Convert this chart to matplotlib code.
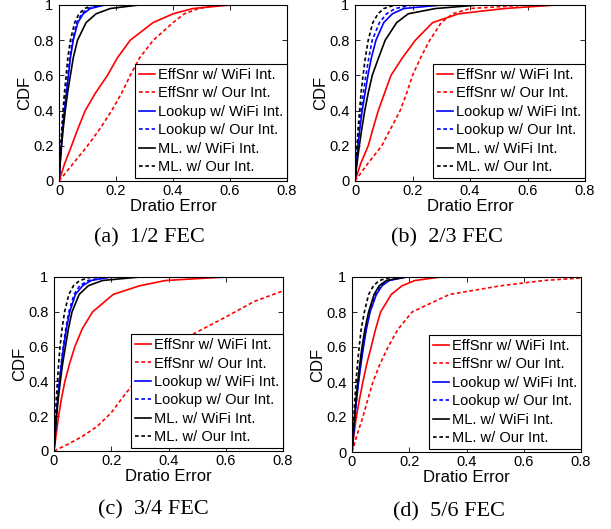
import matplotlib
matplotlib.use("Agg")
import matplotlib.pyplot as plt

# ============================================================
# Data: Dratio error read at fixed CDF levels
# ============================================================

CDF_LEVELS = [0, 0.1, 0.2, 0.3, 0.4, 0.5, 0.6, 0.7, 0.8, 0.9, 0.95, 0.98, 1.0]

SERIES = ["EffSnr w/ WiFi Int.", "EffSnr w/ Our Int.",
          "Lookup w/ WiFi Int.", "Lookup w/ Our Int.",
          "ML. w/ WiFi Int.", "ML. w/ Our Int."]

CAPTIONS = ["(a)  1/2 FEC", "(b)  2/3 FEC", "(c)  3/4 FEC", "(d)  5/6 FEC"]

# (a) 1/2 FEC
A_EFF_WIFI = [0, 0.02, 0.044, 0.067, 0.092, 0.128, 0.17, 0.205, 0.25, 0.33, 0.40, 0.47, 0.6]
A_EFF_OUR = [0, 0.05, 0.10, 0.145, 0.185, 0.22, 0.25, 0.283, 0.331, 0.40, 0.44, 0.49, 0.56]
A_LOOK_WIFI = [0, 0.004, 0.008, 0.013, 0.019, 0.026, 0.033, 0.04, 0.05, 0.066, 0.085, 0.11, 0.16]
A_LOOK_OUR = [0, 0.003, 0.007, 0.012, 0.017, 0.024, 0.031, 0.038, 0.047, 0.062, 0.08, 0.10, 0.15]
A_ML_WIFI = [0, 0.004, 0.009, 0.015, 0.022, 0.03, 0.04, 0.05, 0.065, 0.095, 0.13, 0.18, 0.28]
A_ML_OUR = [0, 0.003, 0.006, 0.01, 0.014, 0.019, 0.025, 0.031, 0.04, 0.055, 0.07, 0.09, 0.12]

# (b) 2/3 FEC
B_EFF_WIFI = [0, 0.02, 0.046, 0.063, 0.081, 0.103, 0.125, 0.165, 0.21, 0.27, 0.36, 0.52, 0.7]
B_EFF_OUR = [0, 0.045, 0.093, 0.125, 0.157, 0.18, 0.2, 0.228, 0.26, 0.30, 0.34, 0.40, 0.6]
B_LOOK_WIFI = [0, 0.005, 0.01, 0.017, 0.025, 0.035, 0.045, 0.057, 0.073, 0.10, 0.13, 0.17, 0.3]
B_LOOK_OUR = [0, 0.004, 0.009, 0.015, 0.021, 0.029, 0.038, 0.048, 0.06, 0.085, 0.11, 0.14, 0.2]
B_ML_WIFI = [0, 0.007, 0.015, 0.024, 0.034, 0.046, 0.06, 0.082, 0.105, 0.145, 0.185, 0.28, 0.43]
B_ML_OUR = [0, 0.003, 0.007, 0.011, 0.016, 0.021, 0.028, 0.036, 0.046, 0.062, 0.08, 0.10, 0.14]

# (c) 3/4 FEC
C_EFF_WIFI = [0, 0.008, 0.016, 0.026, 0.038, 0.054, 0.073, 0.098, 0.135, 0.207, 0.30, 0.39, 0.6]
C_EFF_OUR_X = [0, 0.05, 0.1, 0.15, 0.2, 0.25, 0.3, 0.35, 0.4, 0.48, 0.6, 0.7, 0.8]
C_EFF_OUR_CDF = [0, 0.04, 0.085, 0.14, 0.22, 0.33, 0.43, 0.51, 0.575, 0.667, 0.77, 0.86, 0.92]
C_LOOK_WIFI = [0, 0.004, 0.008, 0.013, 0.019, 0.026, 0.034, 0.043, 0.055, 0.075, 0.10, 0.13, 0.2]
C_LOOK_OUR = [0, 0.004, 0.008, 0.012, 0.018, 0.025, 0.032, 0.041, 0.052, 0.07, 0.09, 0.12, 0.18]
C_ML_WIFI = [0, 0.004, 0.009, 0.015, 0.022, 0.03, 0.04, 0.05, 0.063, 0.088, 0.12, 0.17, 0.3]
C_ML_OUR = [0, 0.002, 0.005, 0.008, 0.012, 0.016, 0.021, 0.028, 0.037, 0.052, 0.068, 0.09, 0.13]

# (d) 5/6 FEC
D_EFF_WIFI = [0, 0.007, 0.015, 0.026, 0.038, 0.051, 0.067, 0.082, 0.10, 0.137, 0.175, 0.22, 0.31]
D_EFF_OUR = [0, 0.018, 0.038, 0.055, 0.073, 0.097, 0.126, 0.16, 0.21, 0.34, 0.52, 0.67, 0.85]
D_LOOK_WIFI = [0, 0.005, 0.01, 0.016, 0.023, 0.031, 0.04, 0.05, 0.063, 0.085, 0.105, 0.13, 0.19]
D_LOOK_OUR = [0, 0.005, 0.01, 0.016, 0.022, 0.03, 0.039, 0.049, 0.062, 0.083, 0.10, 0.125, 0.18]
D_ML_WIFI = [0, 0.004, 0.009, 0.014, 0.02, 0.027, 0.035, 0.045, 0.058, 0.077, 0.095, 0.12, 0.19]
D_ML_OUR = [0, 0.003, 0.006, 0.01, 0.014, 0.019, 0.025, 0.032, 0.043, 0.058, 0.075, 0.095, 0.14]

panels = [
    [(A_EFF_WIFI, CDF_LEVELS), (A_EFF_OUR, CDF_LEVELS), (A_LOOK_WIFI, CDF_LEVELS),
     (A_LOOK_OUR, CDF_LEVELS), (A_ML_WIFI, CDF_LEVELS), (A_ML_OUR, CDF_LEVELS)],
    [(B_EFF_WIFI, CDF_LEVELS), (B_EFF_OUR, CDF_LEVELS), (B_LOOK_WIFI, CDF_LEVELS),
     (B_LOOK_OUR, CDF_LEVELS), (B_ML_WIFI, CDF_LEVELS), (B_ML_OUR, CDF_LEVELS)],
    [(C_EFF_WIFI, CDF_LEVELS), (C_EFF_OUR_X, C_EFF_OUR_CDF), (C_LOOK_WIFI, CDF_LEVELS),
     (C_LOOK_OUR, CDF_LEVELS), (C_ML_WIFI, CDF_LEVELS), (C_ML_OUR, CDF_LEVELS)],
    [(D_EFF_WIFI, CDF_LEVELS), (D_EFF_OUR, CDF_LEVELS), (D_LOOK_WIFI, CDF_LEVELS),
     (D_LOOK_OUR, CDF_LEVELS), (D_ML_WIFI, CDF_LEVELS), (D_ML_OUR, CDF_LEVELS)],
]

# ============================================================
# Styling
# ============================================================

colors = ["#ff0000", "#ff0000", "#0000ff", "#0000ff", "#000000", "#000000"]
dashed = [False, True, False, True, False, True]

plt.rcParams["font.family"] = ["Liberation Sans", "DejaVu Sans"]

W, H = 611, 529
fig = plt.figure(figsize=(W / 100, H / 100), dpi=100)

# axes boxes in pixels: left, top, right, bottom
boxes = [(59, 5, 287, 181), (355, 5, 585, 181), (54, 277, 283, 451), (352, 277, 581, 452)]
caption_pos = [(149, 238), (447, 238), (153, 510), (449, 512)]

XMAX = 0.8

for k, box in enumerate(boxes):
    l, t, r, b = box
    ax = fig.add_axes([l / W, 1 - b / H, (r - l) / W, (b - t) / H])
    for i, (xs, ys) in enumerate(panels[k]):
        xs = list(xs)
        ys = list(ys)
        if xs[-1] < XMAX:
            xs.append(XMAX)
            ys.append(ys[-1])
        kw = dict(color=colors[i], lw=1.2, label=SERIES[i])
        if dashed[i]:
            kw["dashes"] = (2.2, 1.6)
        ax.plot(xs, ys, **kw)

    ax.set_xlim(0, XMAX)
    ax.set_ylim(0, 1)
    ax.set_xticks([0, 0.2, 0.4, 0.6, 0.8])
    ax.set_xticklabels(["0", "0.2", "0.4", "0.6", "0.8"])
    ax.set_yticks([0, 0.2, 0.4, 0.6, 0.8, 1])
    ax.set_yticklabels(["0", "0.2", "0.4", "0.6", "0.8", "1"])
    ax.tick_params(direction="in", top=True, right=True, length=3.5, width=0.6,
                   labelsize=10.5)
    ax.tick_params(axis="x", pad=2)
    ax.tick_params(axis="y", pad=4)
    for s in ax.spines.values():
        s.set_linewidth(0.8)
    ax.set_xlabel("Dratio Error", fontsize=12, labelpad=1)
    ax.set_ylabel("CDF", fontsize=12, labelpad=1)

    leg = ax.legend(loc="lower right", bbox_to_anchor=(1.0, 0.015), borderaxespad=0,
                    fontsize=10.5, handlelength=1.05, handletextpad=0.2,
                    labelspacing=0.3, borderpad=0.3, fancybox=False,
                    framealpha=1, edgecolor="black")
    leg.get_frame().set_linewidth(0.8)

    cx, cy = caption_pos[k]
    fig.text(cx / W, 1 - cy / H, CAPTIONS[k], ha="center", va="center",
             fontsize=16, family=["Liberation Serif", "DejaVu Serif"])

plt.savefig("out.png", dpi=100)
